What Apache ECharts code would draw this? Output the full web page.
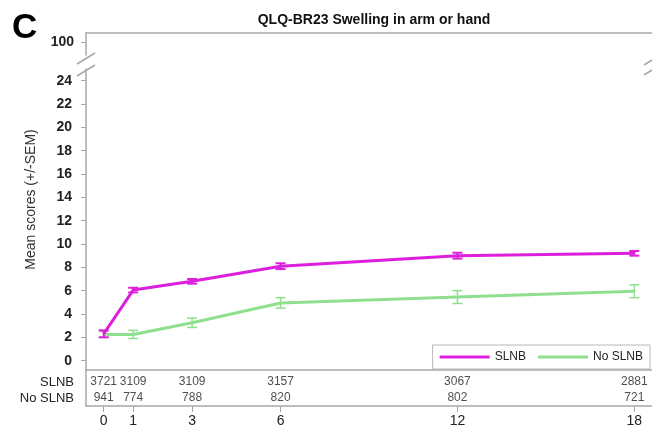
<!DOCTYPE html>
<html>
<head>
<meta charset="utf-8">
<script src="https://cdn.jsdelivr.net/npm/echarts@6/dist/echarts.min.js"></script>
<style>
  html, body { margin: 0; padding: 0; background: #fff; }
  #chart { width: 652px; height: 429px; }
</style>
</head>
<body>
<div id="chart"></div>
<script>
// months after surgery
const months = [0, 1, 3, 6, 12, 18]
const yTicks = [0, 2, 4, 6, 8, 10, 12, 14, 16, 18, 20, 22, 24]

// mean scores and SEM
const slnbMean = [2.3, 6.05, 6.8, 8.1, 9.0, 9.2]
const slnbSem = [0.3, 0.2, 0.2, 0.25, 0.25, 0.2]
const noSlnbMean = [2.25, 2.25, 3.25, 4.95, 5.45, 5.95]
const noSlnbSem = [0.25, 0.35, 0.4, 0.45, 0.55, 0.55]

// patients at risk
const slnbN = [3721, 3109, 3109, 3157, 3067, 2881]
const noSlnbN = [941, 774, 788, 820, 802, 721]

const MAGENTA = '#dd1fdd'
const GREEN = '#8ee08e'
const AXIS = '#a8a8a8'
const FONT = 'Liberation Sans, Arial, sans-serif'

const chart = echarts.init(document.getElementById('chart'))

const pts = (xs, ys) => xs.map((x, i) => [x, ys[i]])

function errorBars(mean, sem, color, cap, width) {
  return {
    type: 'custom',
    xAxisIndex: 1,
    yAxisIndex: 1,
    silent: true,
    data: months.map((m, i) => [m, mean[i] - sem[i], mean[i] + sem[i]]),
    renderItem(params, api) {
      const lo = api.coord([api.value(0), api.value(1)])
      const hi = api.coord([api.value(0), api.value(2)])
      const style = { stroke: color, lineWidth: width }
      return {
        type: 'group',
        children: [
          { type: 'line', shape: { x1: lo[0], y1: lo[1], x2: hi[0], y2: hi[1] }, style },
          { type: 'line', shape: { x1: lo[0] - cap, y1: lo[1], x2: lo[0] + cap, y2: lo[1] }, style },
          { type: 'line', shape: { x1: hi[0] - cap, y1: hi[1], x2: hi[0] + cap, y2: hi[1] }, style },
        ],
      }
    },
  }
}

const xRange = { min: -0.6, max: 18.6 }
const axisLine = { show: true, onZero: false, lineStyle: { color: AXIS, width: 1.5 } }

const option = {
  animation: false,
  title: [
    {
      text: 'C', left: 7, top: 6,
      textStyle: { fontFamily: FONT, fontSize: 35, fontWeight: 'bold', color: '#000' },
    },
    {
      text: 'QLQ-BR23 Swelling in arm or hand', left: 369, top: 8, textAlign: 'center',
      textStyle: { fontFamily: FONT, fontSize: 14, fontWeight: 'bold', color: '#111' },
    },
  ],
  legend: {
    data: ['SLNB', 'No SLNB'],
    right: 2, top: 345,
    padding: [6, 7],
    itemWidth: 50, itemHeight: 3, itemGap: 12,
    icon: 'rect',
    borderColor: '#b8b8b8', borderWidth: 1,
    textStyle: { fontFamily: FONT, fontSize: 12, color: '#222' },
  },
  grid: [
    { left: 86, right: 0, top: 33, height: 22 },   // 100 segment above the break
    { left: 86, right: 0, top: 69, height: 301 },  // main plot
    { left: 86, right: 0, top: 370, height: 36 },  // at-risk table
  ],
  xAxis: [
    {
      gridIndex: 0, type: 'value', position: 'top', ...xRange,
      axisLine, axisTick: { show: false }, axisLabel: { show: false }, splitLine: { show: false },
    },
    {
      gridIndex: 1, type: 'value', ...xRange,
      axisLine, axisTick: { show: false }, axisLabel: { show: false }, splitLine: { show: false },
    },
    {
      gridIndex: 2, type: 'value', ...xRange,
      axisLine,
      axisTick: { show: true, length: 6, customValues: months, lineStyle: { color: AXIS } },
      axisLabel: { customValues: months, fontFamily: FONT, fontSize: 14, color: '#222', margin: 8 },
      splitLine: { show: false },
    },
  ],
  yAxis: [
    {
      gridIndex: 0, type: 'value', min: 98, max: 101.4,
      axisLine,
      axisTick: { show: true, length: 5, customValues: [100], lineStyle: { color: AXIS } },
      axisLabel: { customValues: [100], fontFamily: FONT, fontSize: 14, fontWeight: 'bold', color: '#222', margin: 12 },
      splitLine: { show: false },
    },
    {
      gridIndex: 1, type: 'value', min: -0.8, max: 25,
      name: 'Mean scores (+/-SEM)', nameLocation: 'middle', nameGap: 48,
      nameTextStyle: { fontFamily: FONT, fontSize: 14, color: '#333', padding: [0, 0, 0, 40] },
      axisLine,
      axisTick: { show: true, length: 5, customValues: yTicks, lineStyle: { color: AXIS } },
      axisLabel: { customValues: yTicks, fontFamily: FONT, fontSize: 14, fontWeight: 'bold', color: '#222', margin: 14 },
      splitLine: { show: false },
    },
    {
      gridIndex: 2, type: 'value', min: 0, max: 4.5,
      axisLine,
      axisTick: { show: false },
      axisLabel: {
        customValues: [1, 3],
        formatter: v => (v === 3 ? 'SLNB' : 'No SLNB'),
        fontFamily: FONT, fontSize: 13, color: '#222', margin: 12,
      },
      splitLine: { show: false },
    },
  ],
  series: [
    {
      name: 'No SLNB', type: 'line', xAxisIndex: 1, yAxisIndex: 1,
      data: pts(months, noSlnbMean),
      showSymbol: false, lineStyle: { color: GREEN, width: 3 }, itemStyle: { color: GREEN },
      z: 2,
    },
    { ...errorBars(noSlnbMean, noSlnbSem, GREEN, 5, 1.5), z: 2 },
    {
      name: 'SLNB', type: 'line', xAxisIndex: 1, yAxisIndex: 1,
      data: pts(months, slnbMean),
      showSymbol: false, lineStyle: { color: MAGENTA, width: 3 }, itemStyle: { color: MAGENTA },
      z: 3,
    },
    { ...errorBars(slnbMean, slnbSem, MAGENTA, 5, 2), z: 3 },
    {
      type: 'scatter', xAxisIndex: 2, yAxisIndex: 2, symbolSize: 0, silent: true,
      data: months.map((m, i) => [m, 3, slnbN[i]]),
      label: { show: true, position: 'inside', formatter: p => p.value[2], fontFamily: FONT, fontSize: 12, color: '#222' },
    },
    {
      type: 'scatter', xAxisIndex: 2, yAxisIndex: 2, symbolSize: 0, silent: true,
      data: months.map((m, i) => [m, 1, noSlnbN[i]]),
      label: { show: true, position: 'inside', formatter: p => p.value[2], fontFamily: FONT, fontSize: 12, color: '#222' },
    },
  ],
  // axis-break marks
  graphic: [
    { type: 'line', shape: { x1: 77, y1: 64, x2: 95, y2: 53 }, style: { stroke: AXIS, lineWidth: 1.5 } },
    { type: 'line', shape: { x1: 77, y1: 76, x2: 95, y2: 65 }, style: { stroke: AXIS, lineWidth: 1.5 } },
    { type: 'line', shape: { x1: 644, y1: 65, x2: 652, y2: 60 }, style: { stroke: AXIS, lineWidth: 1.5 } },
    { type: 'line', shape: { x1: 644, y1: 75, x2: 652, y2: 70 }, style: { stroke: AXIS, lineWidth: 1.5 } },
  ],
}

chart.setOption(option)
</script>
</body>
</html>
